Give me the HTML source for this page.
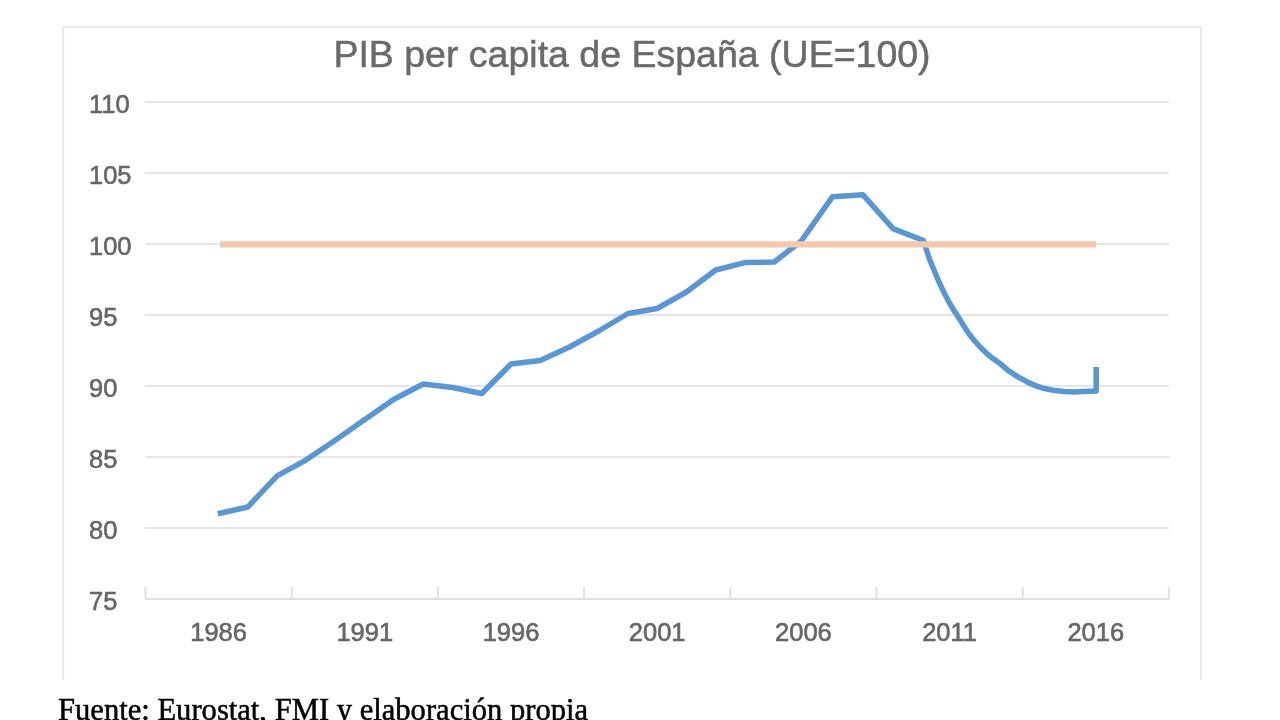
<!DOCTYPE html>
<html><head><meta charset="utf-8">
<style>
html,body{margin:0;padding:0;background:#fff;width:1280px;height:720px;overflow:hidden;}
svg{position:absolute;left:0;top:0;filter:blur(0.55px);}
.ax{font-family:"Liberation Sans",sans-serif;font-size:25.5px;fill:#666666;stroke:#666666;stroke-width:0.6px;}
.title{font-family:"Liberation Sans",sans-serif;font-size:37.5px;fill:#6a6a6a;stroke:#6a6a6a;stroke-width:0.5px;}
.foot{position:absolute;left:58px;top:695px;font-family:"Liberation Serif",serif;font-size:30.6px;color:#000;-webkit-text-stroke:0.5px #000;white-space:nowrap;line-height:1;filter:blur(0.35px);}
</style></head><body>
<svg width="1280" height="720" viewBox="0 0 1280 720">
<path d="M63.1,680 L63.1,26.8 L1201,26.8 L1201,680" fill="none" stroke="#e8e8e8" stroke-width="2"/>
<text x="632" y="66.5" class="title" text-anchor="middle">PIB per capita de España (UE=100)</text>
<line x1="145" y1="102" x2="1169" y2="102" stroke="#e5e5e5" stroke-width="2.2"/>
<line x1="145" y1="173" x2="1169" y2="173" stroke="#e5e5e5" stroke-width="2.2"/>
<line x1="145" y1="244" x2="1169" y2="244" stroke="#e5e5e5" stroke-width="2.2"/>
<line x1="145" y1="315" x2="1169" y2="315" stroke="#e5e5e5" stroke-width="2.2"/>
<line x1="145" y1="386" x2="1169" y2="386" stroke="#e5e5e5" stroke-width="2.2"/>
<line x1="145" y1="457" x2="1169" y2="457" stroke="#e5e5e5" stroke-width="2.2"/>
<line x1="145" y1="528" x2="1169" y2="528" stroke="#e5e5e5" stroke-width="2.2"/>
<line x1="145" y1="599" x2="1169" y2="599" stroke="#dedede" stroke-width="2"/>
<line x1="145.5" y1="587" x2="145.5" y2="599" stroke="#e0e0e0" stroke-width="2"/>
<line x1="291.7" y1="587" x2="291.7" y2="599" stroke="#e0e0e0" stroke-width="2"/>
<line x1="437.9" y1="587" x2="437.9" y2="599" stroke="#e0e0e0" stroke-width="2"/>
<line x1="584.1" y1="587" x2="584.1" y2="599" stroke="#e0e0e0" stroke-width="2"/>
<line x1="730.3" y1="587" x2="730.3" y2="599" stroke="#e0e0e0" stroke-width="2"/>
<line x1="876.5" y1="587" x2="876.5" y2="599" stroke="#e0e0e0" stroke-width="2"/>
<line x1="1022.7" y1="587" x2="1022.7" y2="599" stroke="#e0e0e0" stroke-width="2"/>
<line x1="1168.9" y1="587" x2="1168.9" y2="599" stroke="#e0e0e0" stroke-width="2"/>

<text x="89" y="112.7" class="ax">110</text>
<text x="89" y="183.7" class="ax">105</text>
<text x="89" y="254.7" class="ax">100</text>
<text x="89" y="325.7" class="ax">95</text>
<text x="89" y="396.7" class="ax">90</text>
<text x="89" y="467.7" class="ax">85</text>
<text x="89" y="538.7" class="ax">80</text>
<text x="89" y="609.7" class="ax">75</text>

<text x="218.6" y="641.3" class="ax" text-anchor="middle">1986</text>
<text x="364.8" y="641.3" class="ax" text-anchor="middle">1991</text>
<text x="511.0" y="641.3" class="ax" text-anchor="middle">1996</text>
<text x="657.2" y="641.3" class="ax" text-anchor="middle">2001</text>
<text x="803.4" y="641.3" class="ax" text-anchor="middle">2006</text>
<text x="949.6" y="641.3" class="ax" text-anchor="middle">2011</text>
<text x="1095.8" y="641.3" class="ax" text-anchor="middle">2016</text>

<path d="M217.8,513.8 L247.8,507.0 L277.1,475.8 L306.3,459.8 L335.6,440.0 L364.8,419.5 L394.0,399.2 L423.3,384.0 L452.5,387.5 L481.8,393.5 L511.0,364.0 L540.2,360.5 L569.5,347.0 L598.7,331.0 L628.0,313.5 L657.2,308.5 L686.4,292.0 L715.7,270.0 L744.9,262.6 L774.2,262.0 L801.0,241.3 L832.6,196.7 L863.0,194.8 L893.0,228.6 L923.5,240.5 L929.5,259.2 L934.3,270.8 L939.2,282.5 L944.0,292.5 L948.9,302.0 L953.7,310.0 L958.6,317.5 L963.5,325.5 L968.4,333.1 L973.2,339.2 L978.1,344.8 L982.9,349.8 L987.8,354.5 L994.6,359.8 L1001.4,364.6 L1008.1,370.4 L1017.5,376.6 L1026.9,381.7 L1036.2,386.0 L1045.6,388.8 L1055.0,390.6 L1064.4,391.5 L1073.8,391.9 L1083.1,391.6 L1096.2,391.0 L1096.2,367.0" fill="none" stroke="#5797d6" stroke-width="5.5" stroke-linejoin="round" stroke-linecap="butt"/>
<line x1="220" y1="244.4" x2="1096" y2="244.4" stroke="#f5c8ab" stroke-width="6.2"/>
</svg>
<div class="foot">Fuente: Eurostat, FMI y elaboración propia</div>
</body></html>
